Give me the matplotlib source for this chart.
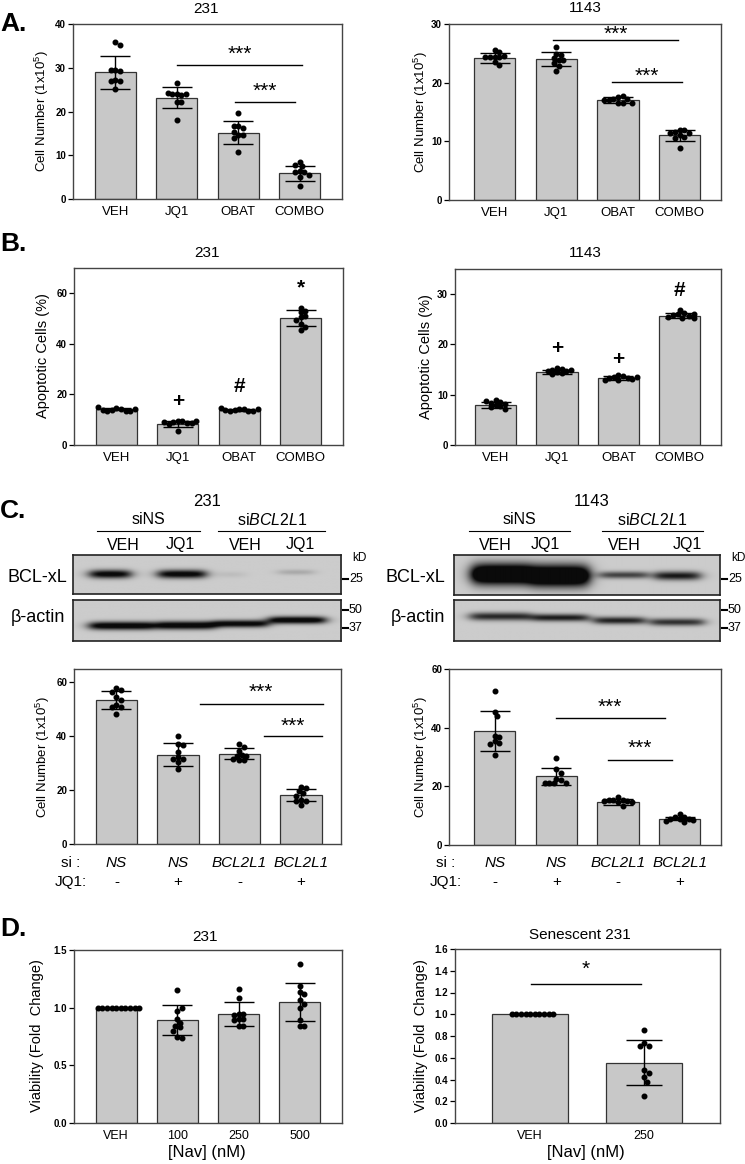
import numpy as np
import matplotlib
matplotlib.use("Agg")
import matplotlib.pyplot as plt
from matplotlib.ticker import FormatStrFormatter

plt.rcParams['font.family'] = ['Liberation Sans', 'DejaVu Sans']
plt.rcParams['mathtext.fontset'] = 'custom'
plt.rcParams['mathtext.rm'] = 'Liberation Sans'
plt.rcParams['mathtext.it'] = 'Liberation Sans:italic'
plt.rcParams['mathtext.bf'] = 'Liberation Sans:bold'

# -------------------- DATA --------------------
groups_ab = ["VEH", "JQ1", "OBAT", "COMBO"]

a231_mean = [29.0, 23.2, 15.2, 5.9]
a231_sd = [3.8, 2.4, 2.6, 1.7]
a231_pts = [[35.8, 35.2, 29.6, 29.2, 29.5, 27.2, 27.0, 27.0, 25.1],
            [26.5, 23.9, 23.8, 24.0, 24.0, 24.3, 22.2, 22.1, 18.1],
            [19.6, 16.7, 16.2, 16.7, 14.6, 14.6, 15.4, 14.0, 10.7],
            [8.4, 7.5, 7.8, 6.4, 6.2, 6.1, 5.1, 5.5, 3.0]]

a1143_mean = [24.2, 24.0, 17.05, 11.0]
a1143_sd = [0.8, 1.2, 0.45, 1.0]
a1143_pts = [[25.6, 25.2, 24.4, 24.4, 24.3, 24.5, 24.4, 23.6, 23.0],
             [26.1, 24.9, 24.8, 24.2, 23.9, 23.8, 23.4, 22.8, 22.0],
             [17.6, 17.8, 17.2, 17.2, 17.1, 16.5, 16.5, 16.6, 17.1],
             [12.0, 12.0, 11.6, 11.4, 11.1, 10.8, 10.5, 11.4, 8.8]]

b231_mean = [14.2, 8.3, 13.7, 50.1]
b231_sd = [0.5, 1.1, 0.4, 3.2]
b231_pts = [[14.8, 14.3, 13.9, 13.6, 13.4, 13.6, 13.9, 14.2, 15.0],
            [9.5, 9.3, 8.9, 8.7, 8.5, 8.8, 9.2, 9.6, 5.7],
            [14.4, 14.2, 13.9, 13.6, 13.4, 13.5, 13.8, 14.1, 14.5],
            [54.3, 53.0, 52.5, 51.0, 50.5, 49.5, 48.0, 46.5, 45.3]]
b231_marks = ["", "+", "#", "*"]
b231_mark_y = [None, 17.2, 23.2, 62.3]

b1143_mean = [7.9, 14.6, 13.3, 25.7]
b1143_sd = [0.6, 0.4, 0.35, 0.5]
b1143_pts = [[9.0, 8.6, 8.4, 8.2, 7.9, 7.7, 7.5, 7.1, 8.8],
             [15.4, 15.2, 15.0, 14.8, 14.7, 14.5, 14.3, 14.1, 14.9],
             [13.9, 13.7, 13.5, 13.4, 13.3, 13.1, 13.0, 12.9, 13.6],
             [26.8, 26.2, 26.0, 25.9, 25.7, 25.5, 25.3, 25.2, 26.1]]
b1143_marks = ["", "+", "+", "#"]
b1143_mark_y = [None, 19.2, 17.0, 30.7]

# western blot band intensities (0 = none, >1 = saturated)
bcl_231 = [0.85, 0.85, 0.06, 0.14]
actin_231 = [0.9, 0.9, 0.85, 0.9]
bcl_1143 = [1.3, 1.3, 0.55, 0.72]
actin_1143 = [0.65, 0.7, 0.68, 0.62]
blot_lanes = ["VEH", "JQ1", "VEH", "JQ1"]

si_labels = ["NS", "NS", "BCL2L1", "BCL2L1"]
jq1_labels = ["-", "+", "-", "+"]

c231_mean = [53.5, 33.1, 33.6, 18.1]
c231_sd = [3.5, 4.3, 2.2, 2.3]
c231_pts = [[57.8, 57.2, 56.5, 54.5, 53.5, 51.5, 51.0, 50.8, 48.2],
            [40.0, 37.0, 36.9, 34.0, 32.3, 31.5, 31.5, 30.5, 27.9],
            [37.2, 36.1, 34.6, 33.0, 32.7, 32.7, 31.2, 31.2, 31.5],
            [21.1, 20.8, 19.6, 19.0, 18.0, 16.5, 15.9, 15.9, 14.4]]

c1143_mean = [38.9, 23.5, 14.7, 9.0]
c1143_sd = [6.9, 2.9, 0.95, 0.55]
c1143_pts = [[52.6, 45.5, 44.0, 37.0, 36.8, 35.3, 34.8, 34.5, 30.6],
             [29.7, 25.8, 24.5, 22.5, 22.0, 21.0, 21.0, 21.0, 21.2],
             [16.3, 15.5, 15.3, 15.0, 15.2, 14.5, 13.3, 14.8, 15.0],
             [10.6, 9.6, 9.4, 9.0, 8.8, 8.7, 8.5, 8.3, 8.0]]

d231_labels = ["VEH", "100", "250", "500"]
d231_mean = [1.0, 0.89, 0.942, 1.049]
d231_sd = [0.0, 0.13, 0.103, 0.165]
d231_pts = [[1.0, 1.0, 1.0, 1.0, 1.0, 1.0, 1.0, 1.0, 1.0, 1.0],
            [1.15, 0.97, 1.0, 0.905, 0.87, 0.838, 0.83, 0.80, 0.75, 0.74],
            [1.165, 1.087, 0.948, 0.948, 0.94, 0.905, 0.905, 0.89, 0.838, 0.838],
            [1.375, 1.185, 1.14, 1.121, 1.063, 1.035, 1.0, 0.89, 0.838, 0.838]]

dsen_labels = ["VEH", "250"]
dsen_mean = [1.0, 0.555]
dsen_sd = [0.0, 0.205]
dsen_pts = [[1.0, 1.0, 1.0, 1.0, 1.0, 1.0, 1.0, 1.0, 1.0, 1.0],
            [0.855, 0.74, 0.71, 0.71, 0.49, 0.46, 0.42, 0.38, 0.25]]

# -------------------- FIGURE / HELPERS --------------------
W, H = 745, 1164
fig = plt.figure(figsize=(W / 100, H / 100), dpi=100)


def rect(l, t, r, b):
    return [l / W, 1 - b / H, (r - l) / W, (b - t) / H]


def ftext(x, y, s, **kw):
    kw.setdefault("ha", "center")
    kw.setdefault("va", "center")
    fig.text(x / W, 1 - y / H, s, **kw)


def swarm(ax, xc, vals, d=4.6):
    # simple beeswarm in pixel space
    step = d / 2
    placed = []
    xs = []
    for v in vals:
        px, py = ax.transData.transform((xc, v))
        k = 0
        while True:
            off = ((k + 1) // 2) * step * (1 if k % 2 else -1) if k else 0.0
            ok = all((px + off - qx) ** 2 + (py - qy) ** 2 >= (d * 0.98) ** 2
                     for qx, qy in placed)
            if ok:
                break
            k += 1
        placed.append((px + off, py))
        xs.append(ax.transData.inverted().transform((px + off, py))[0])
    return xs


def bar_panel(box, means, sds, pts, ylim, yticks, xlim, fmt="%d", capsize=11):
    ax = fig.add_axes(rect(*box))
    x = np.arange(len(means))
    ax.set_xlim(*xlim)
    ax.set_ylim(*ylim)
    ax.bar(x, means, width=0.67, color="#c8c8c8", edgecolor="#333333",
           linewidth=0.9, zorder=1)
    ax.errorbar(x, means, yerr=sds, fmt="none", ecolor="black", elinewidth=1,
                capsize=capsize, capthick=1, zorder=3)
    for i, vals in enumerate(pts):
        ax.plot(swarm(ax, x[i], vals), vals, "o", ms=3.3, color="black",
                mec="black", zorder=4)
    ax.set_yticks(yticks)
    ax.yaxis.set_major_formatter(FormatStrFormatter(fmt))
    ax.set_xticks(x)
    ax.tick_params(axis="y", length=3.5, width=0.9, labelsize=7, pad=1.5)
    ax.tick_params(axis="x", length=0, labelsize=9.5, pad=5)
    for lab in ax.get_yticklabels():
        lab.set_fontweight("bold")
    for s in ax.spines.values():
        s.set_color("#444444")
        s.set_linewidth(1.0)
    return ax


def sig(ax, x1, x2, y, ys, txt="***", size=15):
    ax.plot([x1, x2], [y, y], color="black", lw=1, zorder=5)
    ax.text((x1 + x2) / 2, ys, txt, ha="center", va="center", fontsize=size,
            zorder=5)


def blot(box, intens, centers, halfw, yc, thick, bg=0.80):
    ax = fig.add_axes(rect(*box))
    xs = np.linspace(0, 1, 500)
    ys = np.linspace(0, 1, 80)
    X, Y = np.meshgrid(xs, ys)
    img = np.full(X.shape, bg)
    for a, c, w, y0, t in zip(intens, centers, halfw, yc, thick):
        px = 1 / (1 + np.exp((np.abs(X - c) - w) / 0.014))
        py = np.exp(-((Y - y0) / t) ** 2)
        img = img - a * px * py
    img = np.clip(img, 0.04, 1)
    ax.imshow(img, cmap="gray", vmin=0, vmax=1, extent=(0, 1, 0, 1),
              origin="lower", aspect="auto", interpolation="bilinear")
    ax.set_xticks([])
    ax.set_yticks([])
    for s in ax.spines.values():
        s.set_color("#222222")
        s.set_linewidth(1.2)
    return ax


# -------------------- PANEL A --------------------
ftext(0, 24, "A.", ha="left", fontsize=19, fontweight="bold")
ax = bar_panel((73, 24, 342, 199), a231_mean, a231_sd, a231_pts,
               (0, 40), [0, 10, 20, 30, 40], (-0.69, 3.69))
ax.set_xticklabels(groups_ab)
sig(ax, 1.0, 3.04, 30.6, 33.0)
sig(ax, 1.94, 2.92, 22.2, 24.6)
ftext(206, 9, "231", fontsize=11)
ftext(42, 111, "Cell Number (1x10$^5$)", rotation=90, fontsize=9.5)

ax = bar_panel((449, 24, 721, 200), a1143_mean, a1143_sd, a1143_pts,
               (0, 30), [0, 10, 20, 30], (-0.74, 3.67))
ax.set_xticklabels(groups_ab)
sig(ax, 0.95, 2.97, 27.3, 28.2)
sig(ax, 1.9, 3.04, 20.1, 21.0)
ftext(585, 8, "1143", fontsize=11)
ftext(421, 112, "Cell Number (1x10$^5$)", rotation=90, fontsize=9.5)

# -------------------- PANEL B --------------------
ftext(0, 244, "B.", ha="left", fontsize=19, fontweight="bold")
ax = bar_panel((74, 268, 343, 445), b231_mean, b231_sd, b231_pts,
               (0, 70), [0, 20, 40, 60], (-0.69, 3.69))
ax.set_xticklabels(groups_ab)
for i, m in enumerate(b231_marks):
    if m:
        ax.text(i, b231_mark_y[i], m, ha="center", va="center", fontsize=15,
                fontweight="bold")
ftext(207, 253, "231", fontsize=11)
ftext(43, 356, "Apoptotic Cells (%)", rotation=90, fontsize=10.5)

ax = bar_panel((455, 269, 721, 445), b1143_mean, b1143_sd, b1143_pts,
               (0, 35), [0, 10, 20, 30], (-0.66, 3.67))
ax.set_xticklabels(groups_ab)
for i, m in enumerate(b1143_marks):
    if m:
        ax.text(i, b1143_mark_y[i], m, ha="center", va="center", fontsize=15,
                fontweight="bold")
ftext(585, 253, "1143", fontsize=11)
ftext(426, 357, "Apoptotic Cells (%)", rotation=90, fontsize=10.5)

# -------------------- PANEL C: BLOTS --------------------
ftext(0, 511, "C.", ha="left", fontsize=19, fontweight="bold")

# 231 blots
ftext(207, 502, "231", fontsize=12)
ftext(148, 520, "siNS", fontsize=11.5)
ftext(272, 520, r"si$\mathit{BCL2L1}$", fontsize=11.5)
fig.add_artist(plt.Line2D([97 / W, 200 / W], [1 - 531 / H] * 2, color="black", lw=0.8))
fig.add_artist(plt.Line2D([218 / W, 325 / W], [1 - 531 / H] * 2, color="black", lw=0.8))
for xp, lab in zip([123, 180, 245, 300], blot_lanes):
    ftext(xp, 545, lab, fontsize=11.5)
blot((73, 555, 341, 594), bcl_231, [0.138, 0.405, 0.59, 0.83],
     [0.075, 0.088, 0.05, 0.065], [0.51, 0.51, 0.5, 0.56],
     [0.11, 0.11, 0.08, 0.07])
blot((73, 600, 341, 641), actin_231, [0.181, 0.418, 0.625, 0.834],
     [0.12, 0.11, 0.1, 0.105], [0.37, 0.38, 0.42, 0.51],
     [0.1, 0.1, 0.09, 0.09])
ftext(67, 577, "BCL-xL", ha="right", fontsize=13)
ftext(65, 618, "β-actin", ha="right", fontsize=13)

# 1143 blots
ftext(592, 502, "1143", fontsize=12)
ftext(519, 520, "siNS", fontsize=11.5)
ftext(652, 520, r"si$\mathit{BCL2L1}$", fontsize=11.5)
fig.add_artist(plt.Line2D([469 / W, 570 / W], [1 - 531 / H] * 2, color="black", lw=0.8))
fig.add_artist(plt.Line2D([602 / W, 703 / W], [1 - 531 / H] * 2, color="black", lw=0.8))
for xp, lab in zip([495, 545, 624, 687], blot_lanes):
    ftext(xp, 545, lab, fontsize=11.5)
blot((454, 555, 720, 595), bcl_1143, [0.177, 0.397, 0.639, 0.84],
     [0.11, 0.11, 0.09, 0.085], [0.52, 0.48, 0.5, 0.48],
     [0.26, 0.27, 0.09, 0.11])
blot((454, 600, 720, 641), actin_1143, [0.175, 0.40, 0.622, 0.84],
     [0.115, 0.105, 0.095, 0.1], [0.6, 0.57, 0.5, 0.46],
     [0.1, 0.09, 0.09, 0.09])
ftext(445, 577, "BCL-xL", ha="right", fontsize=13)
ftext(445, 618, "β-actin", ha="right", fontsize=13)

# molecular weight markers
for xl in (343, 722):
    ftext(xl + 9, 558, "kD", ha="left", fontsize=8.5)
    for yy, lab in [(579, "25"), (610, "50"), (628, "37")]:
        fig.add_artist(plt.Line2D([xl / W, (xl + 5) / W], [1 - yy / H] * 2,
                                  color="black", lw=1.5))
        ftext(xl + 6, yy, lab, ha="left", fontsize=9)

# -------------------- PANEL C: BARS --------------------
ax = bar_panel((74, 669, 341, 844), c231_mean, c231_sd, c231_pts,
               (0, 65), [0, 20, 40, 60], (-0.69, 3.65))
ax.set_xticklabels([])
sig(ax, 1.35, 3.35, 52.1, 56.2)
sig(ax, 2.40, 3.34, 40.0, 43.6)
ftext(43, 757, "Cell Number (1x10$^5$)", rotation=90, fontsize=9.5)
for i in range(4):
    ax.text(i, -0.108, si_labels[i], transform=ax.get_xaxis_transform(),
            ha="center", va="center", fontsize=11, style="italic")
    ax.text(i, -0.215, jq1_labels[i], transform=ax.get_xaxis_transform(),
            ha="center", va="center", fontsize=11)
ftext(71, 863, "si :", fontsize=11)
ftext(71, 882, "JQ1:", fontsize=11)

ax = bar_panel((449, 669, 721, 845), c1143_mean, c1143_sd, c1143_pts,
               (0, 60), [0, 20, 40, 60], (-0.74, 3.67))
ax.set_xticklabels([])
sig(ax, 0.99, 2.76, 43.2, 46.9)
sig(ax, 1.83, 2.88, 29.0, 33.0)
ftext(421, 757, "Cell Number (1x10$^5$)", rotation=90, fontsize=9.5)
for i in range(4):
    ax.text(i, -0.102, si_labels[i], transform=ax.get_xaxis_transform(),
            ha="center", va="center", fontsize=11, style="italic")
    ax.text(i, -0.21, jq1_labels[i], transform=ax.get_xaxis_transform(),
            ha="center", va="center", fontsize=11)
ftext(446, 863, "si :", fontsize=11)
ftext(446, 882, "JQ1:", fontsize=11)

# -------------------- PANEL D --------------------
ftext(0, 929, "D.", ha="left", fontsize=19, fontweight="bold")
ax = bar_panel((74, 950, 342, 1123), d231_mean, d231_sd, d231_pts,
               (0, 1.5), [0, 0.5, 1.0, 1.5], (-0.69, 3.69), fmt="%.1f")
ax.set_xticklabels(d231_labels, fontsize=9)
ftext(205, 937, "231", fontsize=11)
ftext(37, 1036, "Viability (Fold  Change)", rotation=90, fontsize=10.5)
ftext(207, 1153, "[Nav] (nM)", fontsize=12)

ax = bar_panel((455, 949, 720, 1123), dsen_mean, dsen_sd, dsen_pts,
               (0, 1.6), [0, 0.2, 0.4, 0.6, 0.8, 1.0, 1.2, 1.4, 1.6],
               (-0.66, 1.665), fmt="%.1f", capsize=13)
ax.set_xticklabels(dsen_labels, fontsize=9)
sig(ax, 0.01, 0.97, 1.28, 1.41, txt="*")
ftext(580, 935, "Senescent 231", fontsize=11)
ftext(421, 1036, "Viability (Fold  Change)", rotation=90, fontsize=10.5)
ftext(586, 1153, "[Nav] (nM)", fontsize=12)

fig.savefig("out.png", dpi=100)
